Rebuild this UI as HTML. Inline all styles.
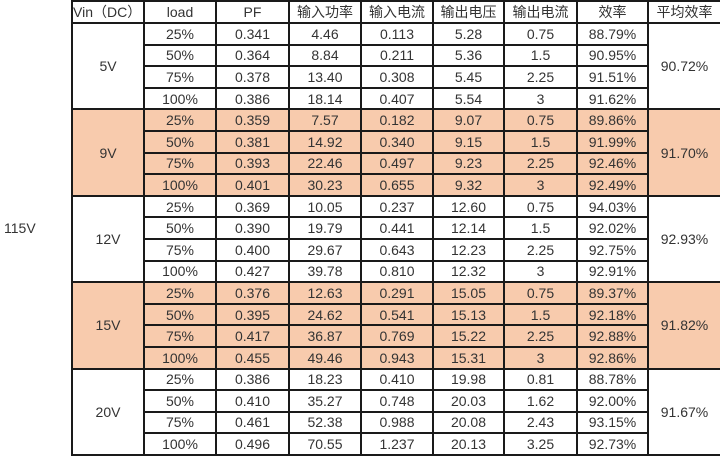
<!DOCTYPE html>
<html><head><meta charset="utf-8"><style>
html,body{margin:0;padding:0;background:#fff;width:720px;height:455px;overflow:hidden}
table{position:absolute;left:0;top:0;border-collapse:collapse;table-layout:fixed;width:721px;height:456px;font-family:"Liberation Sans","Noto Sans CJK SC",sans-serif;font-size:14px;color:#333}
td{border:2px solid #1a1a1a;text-align:center;padding:0;height:19.6px;line-height:16px;white-space:nowrap;overflow:hidden}
tr.h td{height:20px}
.o td,td.o{background:#f8cbad}
td.first{border-left:none;border-top:none;border-bottom:none;text-align:left;padding-left:4px}
</style></head><body>
<table>
<colgroup><col style="width:72px"><col style="width:72px"><col style="width:72px"><col style="width:73px"><col style="width:72px"><col style="width:72px"><col style="width:71px"><col style="width:73px"><col style="width:71px"><col style="width:73px"></colgroup>
<tr class="h"><td class="first" rowspan="21">115V</td><td style="text-align:left">Vin（DC）</td><td>load</td><td>PF</td><td>输入功率</td><td>输入电流</td><td>输出电压</td><td>输出电流</td><td>效率</td><td>平均效率</td></tr>
<tr><td rowspan="4">5V</td><td>25%</td><td>0.341</td><td>4.46</td><td>0.113</td><td>5.28</td><td>0.75</td><td>88.79%</td><td rowspan="4">90.72%</td></tr>
<tr><td>50%</td><td>0.364</td><td>8.84</td><td>0.211</td><td>5.36</td><td>1.5</td><td>90.95%</td></tr>
<tr><td>75%</td><td>0.378</td><td>13.40</td><td>0.308</td><td>5.45</td><td>2.25</td><td>91.51%</td></tr>
<tr><td>100%</td><td>0.386</td><td>18.14</td><td>0.407</td><td>5.54</td><td>3</td><td>91.62%</td></tr>
<tr class="o"><td rowspan="4">9V</td><td>25%</td><td>0.359</td><td>7.57</td><td>0.182</td><td>9.07</td><td>0.75</td><td>89.86%</td><td rowspan="4">91.70%</td></tr>
<tr class="o"><td>50%</td><td>0.381</td><td>14.92</td><td>0.340</td><td>9.15</td><td>1.5</td><td>91.99%</td></tr>
<tr class="o"><td>75%</td><td>0.393</td><td>22.46</td><td>0.497</td><td>9.23</td><td>2.25</td><td>92.46%</td></tr>
<tr class="o"><td>100%</td><td>0.401</td><td>30.23</td><td>0.655</td><td>9.32</td><td>3</td><td>92.49%</td></tr>
<tr><td rowspan="4">12V</td><td>25%</td><td>0.369</td><td>10.05</td><td>0.237</td><td>12.60</td><td>0.75</td><td>94.03%</td><td rowspan="4">92.93%</td></tr>
<tr><td>50%</td><td>0.390</td><td>19.79</td><td>0.441</td><td>12.14</td><td>1.5</td><td>92.02%</td></tr>
<tr><td>75%</td><td>0.400</td><td>29.67</td><td>0.643</td><td>12.23</td><td>2.25</td><td>92.75%</td></tr>
<tr><td>100%</td><td>0.427</td><td>39.78</td><td>0.810</td><td>12.32</td><td>3</td><td>92.91%</td></tr>
<tr class="o"><td rowspan="4">15V</td><td>25%</td><td>0.376</td><td>12.63</td><td>0.291</td><td>15.05</td><td>0.75</td><td>89.37%</td><td rowspan="4">91.82%</td></tr>
<tr class="o"><td>50%</td><td>0.395</td><td>24.62</td><td>0.541</td><td>15.13</td><td>1.5</td><td>92.18%</td></tr>
<tr class="o"><td>75%</td><td>0.417</td><td>36.87</td><td>0.769</td><td>15.22</td><td>2.25</td><td>92.88%</td></tr>
<tr class="o"><td>100%</td><td>0.455</td><td>49.46</td><td>0.943</td><td>15.31</td><td>3</td><td>92.86%</td></tr>
<tr><td rowspan="4">20V</td><td>25%</td><td>0.386</td><td>18.23</td><td>0.410</td><td>19.98</td><td>0.81</td><td>88.78%</td><td rowspan="4">91.67%</td></tr>
<tr><td>50%</td><td>0.410</td><td>35.27</td><td>0.748</td><td>20.03</td><td>1.62</td><td>92.00%</td></tr>
<tr><td>75%</td><td>0.461</td><td>52.38</td><td>0.988</td><td>20.08</td><td>2.43</td><td>93.15%</td></tr>
<tr><td>100%</td><td>0.496</td><td>70.55</td><td>1.237</td><td>20.13</td><td>3.25</td><td>92.73%</td></tr>
</table>
</body></html>
